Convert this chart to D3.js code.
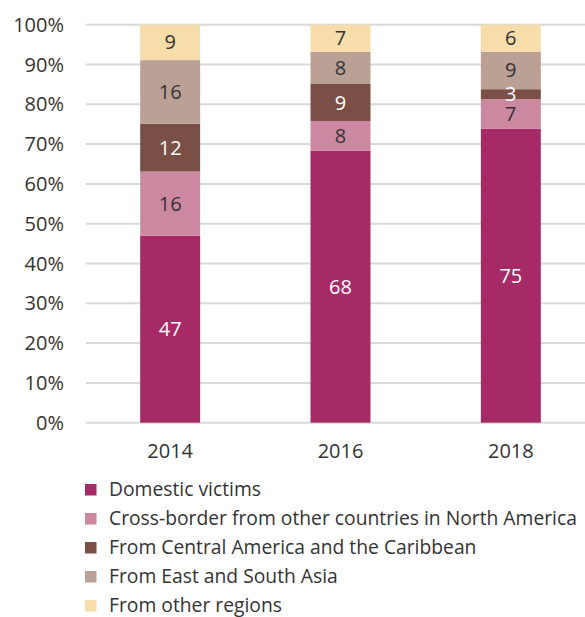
<!DOCTYPE html>
<html><head><meta charset="utf-8">
<script src="https://cdn.jsdelivr.net/npm/d3@7"></script>
<style>body{margin:0;background:#fff;} text{font-family:"Open Sans",sans-serif;}</style>
</head><body><svg id="c" width="585" height="617"></svg>
<script>
const years = ["2014","2016","2018"];
const seriesNames = ["Domestic victims","Cross-border from other countries in North America","From Central America and the Caribbean","From East and South Asia","From other regions"];
const colors = ["#a52a65","#cc88a0","#7a4f45","#bba096","#f7dda9"];
const labelColors = ["#ffffff","#333333","#ffffff","#333333","#333333"];
// bar segment values (percent), as drawn
const domestic = [47.0, 68.3, 73.9];
const crossBorder = [16.1, 7.5, 7.4];
const centralAm = [12.0, 9.3, 2.5];
const eastAsia = [16.0, 8.1, 9.4];
const otherRegions = [8.9, 6.8, 6.8];
// data labels printed on the segments
const domesticLbl = ["47","68","75"];
const crossBorderLbl = ["16","8","7"];
const centralAmLbl = ["12","9","3"];
const eastAsiaLbl = ["16","8","9"];
const otherRegionsLbl = ["9","7","6"];
const yTicks = [0,10,20,30,40,50,60,70,80,90,100];

const vals = [domestic, crossBorder, centralAm, eastAsia, otherRegions];
const lbls = [domesticLbl, crossBorderLbl, centralAmLbl, eastAsiaLbl, otherRegionsLbl];
const rows = years.map((y,i)=>{const r={year:y}; vals.forEach((v,k)=>r["s"+k]=v[i]); return r;});
const keys = vals.map((v,k)=>"s"+k);
const stack = d3.stack().keys(keys)(rows);

const svg = d3.select("#c");
const x = d3.scaleBand().domain(years).range([85,596]).paddingInner(0.648).paddingOuter(0.324);
const y = d3.scaleLinear().domain([0,100]).range([422.7,24.7]);

svg.append("g").selectAll("line").data(yTicks).join("line")
  .attr("x1",86).attr("x2",585).attr("y1",d=>y(d)).attr("y2",d=>y(d))
  .attr("stroke","#d9d9d9").attr("stroke-width",2);

svg.append("g").selectAll("text").data(yTicks).join("text")
  .attr("x",64).attr("y",d=>y(d)).attr("dy","0.35em").attr("text-anchor","end")
  .attr("font-size",20).attr("fill","#333").text(d=>d+"%");

stack.forEach((layer,k)=>{
  const g = svg.append("g");
  g.selectAll("rect").data(layer).join("rect")
    .attr("x",d=>x(d.data.year)).attr("width",x.bandwidth())
    .attr("y",d=>y(d[1])).attr("height",d=>y(d[0])-y(d[1]))
    .attr("fill",colors[k]);
});
stack.forEach((layer,k)=>{
  svg.append("g").selectAll("text").data(layer).join("text")
    .attr("x",d=>x(d.data.year)+x.bandwidth()/2)
    .attr("y",(d,i)=>(y(d[0])+y(d[1]))/2).attr("dy","0.35em")
    .attr("text-anchor","middle").attr("font-size",20).attr("fill",labelColors[k])
    .text((d,i)=>lbls[k][i]);
});

svg.append("g").selectAll("text").data(years).join("text")
  .attr("x",d=>x(d)+x.bandwidth()/2).attr("y",451).attr("dy","0.35em")
  .attr("text-anchor","middle").attr("font-size",20).attr("fill","#333").text(d=>d);

const lg = svg.append("g").selectAll("g").data(seriesNames).join("g")
  .attr("transform",(d,i)=>`translate(85,${489.5+i*29})`);
lg.append("rect").attr("x",0).attr("y",-5.5).attr("width",11.5).attr("height",11.5).attr("fill",(d,i)=>colors[i]);
lg.append("text").attr("x",24).attr("dy","0.35em").attr("font-size",19.3).attr("fill","#333").text(d=>d);
</script></body></html>
